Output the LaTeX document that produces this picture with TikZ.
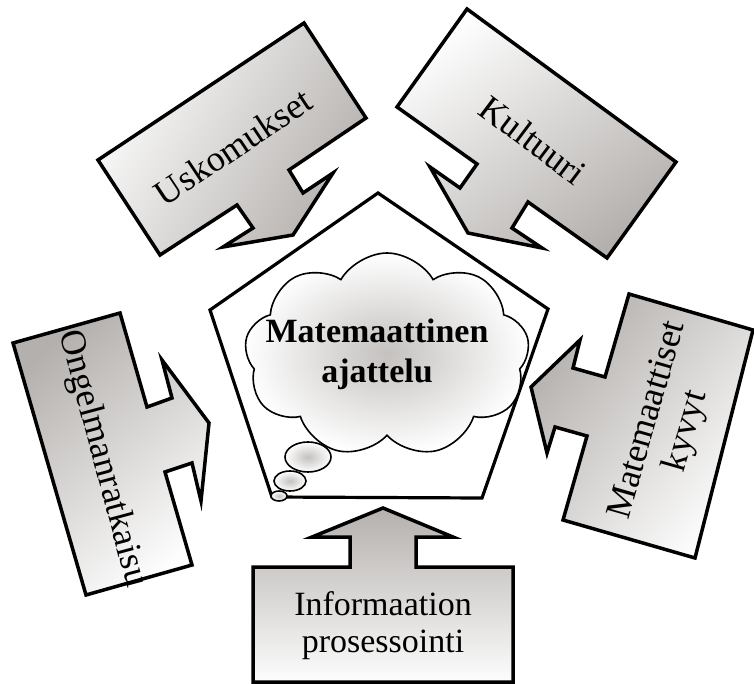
\documentclass[tikz,border=0pt]{standalone}
\usepackage{fontspec}
\setmainfont{Liberation Serif}
\usetikzlibrary{shapes.symbols,shapes.geometric}
\definecolor{boxgray}{RGB}{180,176,173}
\definecolor{boxlight}{RGB}{253,253,253}
\definecolor{cloudgray}{RGB}{196,193,191}
\tikzset{
  callout/.style={draw=black, line width=3.5pt, line join=miter},
  labeltext/.style={font=\fontsize{36}{40}\selectfont, align=center, inner sep=0pt},
  bubble/.style={draw=black, line width=1.6pt, inner color=cloudgray, outer color=white, inner sep=0pt},
}
\begin{document}
\begin{tikzpicture}[x=1pt,y=1pt]
\useasboundingbox (0,0) rectangle (754,683);
% Uskomukset
\path[callout, top color=boxgray, bottom color=boxlight, shading angle=-120]
  (304,660) -- (366,565) -- (289,513) -- (303,490) -- (333,510) -- (293,448)
  -- (223,436) -- (253,455) -- (237,478) -- (160,428) -- (98,523) -- cycle;
% Kultuuri
\path[callout, top color=boxgray, bottom color=boxlight, shading angle=-145]
  (467,674) -- (676,521) -- (607,425) -- (528,481) -- (512,455) -- (542,435)
  -- (468,450) -- (430,516) -- (460,495) -- (477,519) -- (397,576) -- cycle;
% Ongelmanratkaisu
\path[callout, top color=boxgray, bottom color=boxlight, shading angle=40]
  (13,340) -- (120,370) -- (147,276) -- (172,285) -- (162,323) -- (209,260)
  -- (201,182) -- (192,220) -- (165,211) -- (192,118) -- (86,88) -- cycle;
% Matemaattiset kyvyt
\path[callout, top color=boxgray, bottom color=boxlight, shading angle=50]
  (629,389) -- (753,353) -- (695,125) -- (563,163) -- (587,247) -- (555,256)
  -- (547,230) -- (531,296) -- (580,343) -- (573,315) -- (605,306) -- cycle;
% Informaation prosessointi
\path[callout, top color=boxgray, bottom color=boxlight, shading angle=0]
  (253,116) -- (350,116) -- (350,146) -- (312,146) -- (383,175) -- (453,146)
  -- (416,146) -- (416,116) -- (513,116) -- (513,1) -- (253,1) -- cycle;
% pentagon
\draw[line width=3.2pt, line join=miter, fill=white]
  (378,490) -- (548,374) -- (482,185) -- (272,186) -- (210,373) -- cycle;
% cloud
\node[cloud, cloud puffs=9, cloud puff arc=120, cloud ignores aspect,
      minimum width=285pt, minimum height=204pt, bubble] (cloud) at (387,328) {};
\node[ellipse, bubble, minimum width=46pt, minimum height=30pt] (t1) at (308,226) {};
\node[ellipse, bubble, minimum width=32pt, minimum height=20pt] (t2) at (290,202) {};
\node[ellipse, bubble, minimum width=16pt, minimum height=10pt] (t3) at (279,187) {};
\node[font=\bfseries\fontsize{34}{40}\selectfont, align=center, inner sep=0pt] (think) at (377,329) {Matemaattinen\\ajattelu};
% labels
\node[labeltext, rotate=33.6] (usk) at (233,536) {Uskomukset};
\node[labeltext, rotate=-37] (kult) at (533,543) {Kultuuri};
\node[labeltext, rotate=-75] (ongel) at (102,224) {Ongelmanratkaisu};
\node[labeltext, rotate=74] (kyky) at (668,257) {Matemaattiset\\kyvyt};
\node[font=\fontsize{34}{37}\selectfont, align=center, inner sep=0pt] (info) at (383,57) {Informaation\\prosessointi};
\end{tikzpicture}
\end{document}
